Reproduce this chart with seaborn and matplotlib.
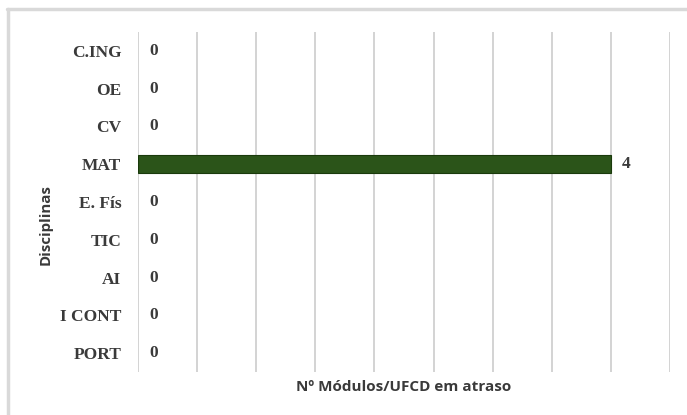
import matplotlib.pyplot as plt
import matplotlib.lines as mlines
import pandas as pd
import seaborn as sns

# Data
disciplinas = ['C.ING', 'OE', 'CV', 'MAT', 'E. Fís', 'TIC', 'AI', 'I CONT', 'PORT']
modulos_atraso = [0, 0, 0, 4, 0, 0, 0, 0, 0]

df = pd.DataFrame({'Disciplinas': disciplinas, 'Modulos': modulos_atraso})

sns.set_style('white')
text_col = '#3a3a3a'

fig = plt.figure(figsize=(6.87, 4.15), dpi=100)
ax = fig.add_axes([0.2009, 0.1036, 0.7744, 0.8193])

sns.barplot(data=df, x='Modulos', y='Disciplinas', orient='h', ax=ax,
            color='#2b5419', width=0.48, saturation=1)

# outline only on the non-empty bars
for p, v in zip(ax.patches, modulos_atraso):
    if v > 0:
        p.set_edgecolor('#1a3a0c')
        p.set_linewidth(0.8)
    else:
        p.set_linewidth(0)

ax.set_xlim(0, 4.5)
ax.set_xticks([i * 0.5 for i in range(10)])
ax.tick_params(axis='x', length=0, labelbottom=False)
ax.tick_params(axis='y', length=0, pad=12)
ax.grid(axis='x', color='#d3d3d3', linewidth=1.4)
ax.set_axisbelow(True)
for s in ax.spines.values():
    s.set_visible(False)

for lbl in ax.get_yticklabels():
    lbl.set_fontfamily('Liberation Serif')
    lbl.set_fontweight('bold')
    lbl.set_fontsize(12.5)
    lbl.set_color(text_col)

# Value labels
for i, v in enumerate(modulos_atraso):
    ax.annotate(str(v), xy=(v, i), xytext=(8, 0), textcoords='offset points',
                va='center', ha='left', fontfamily='Liberation Serif',
                fontweight='bold', fontsize=12.5, color=text_col)

ax.set_ylabel('')
ax.set_xlabel('')
fig.text(0.588, 0.068, 'Nº Módulos/UFCD em atraso', ha='center', va='center',
         fontfamily='Open Sans', fontweight='bold', fontsize=11, color=text_col)
fig.text(0.066, 0.46, 'Disciplinas', ha='center', va='center', rotation=90,
         fontfamily='Open Sans', fontweight='bold', fontsize=10.8, color=text_col)

# Frame around the chart area (only top and left visible)
fig.add_artist(mlines.Line2D([7 / 687, 1], [1 - 9 / 415, 1 - 9 / 415],
                             color='#d9d9d9', linewidth=2.5, transform=fig.transFigure))
fig.add_artist(mlines.Line2D([8 / 687, 8 / 687], [0, 1 - 9 / 415],
                             color='#d9d9d9', linewidth=2.5, transform=fig.transFigure))

fig.savefig('out.png', dpi=100)
